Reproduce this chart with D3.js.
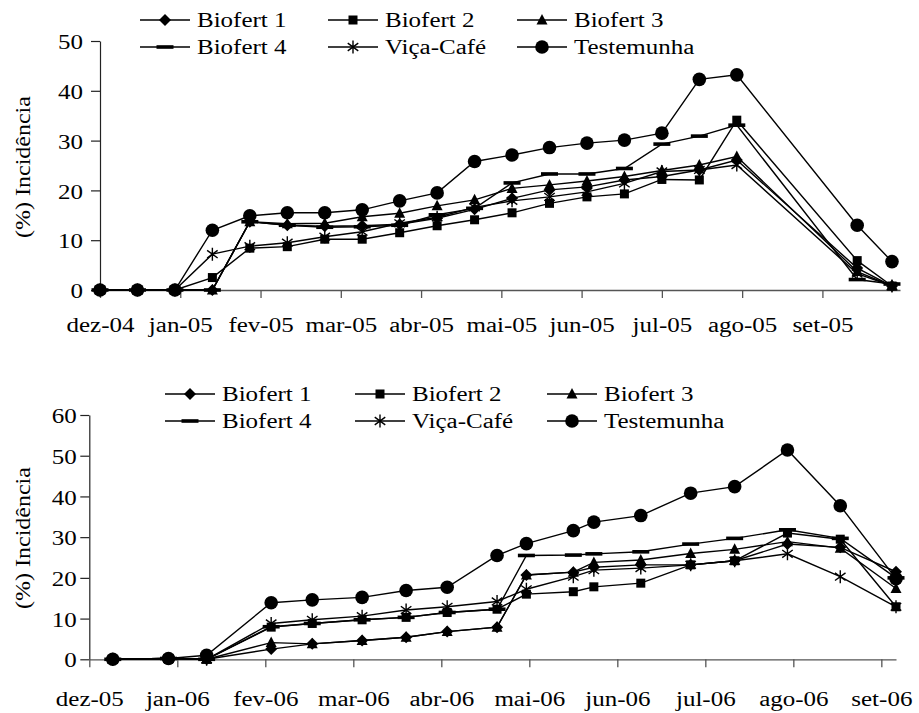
<!DOCTYPE html>
<html>
<head>
<meta charset="utf-8">
<script src="https://cdn.jsdelivr.net/npm/d3@7"></script>
</head>
<body style="margin:0;background:#fff">
<svg id="chart" width="919" height="713"></svg>
<script>
// ---- Series ----
const seriesNames = ["Biofert 1", "Biofert 2", "Biofert 3", "Biofert 4", "Viça-Café", "Testemunha"];
const seriesMarkers = ["diamond", "square", "triangle", "dash", "star", "circle"];

// ---- Season 2004/2005 ----
const dates0405 = ["2004-12-10", "2004-12-24", "2005-01-07", "2005-01-21", "2005-02-04", "2005-02-18",
  "2005-03-04", "2005-03-18", "2005-04-01", "2005-04-15", "2005-04-29", "2005-05-13", "2005-05-27",
  "2005-06-10", "2005-06-24", "2005-07-08", "2005-07-22", "2005-08-05", "2005-09-19", "2005-10-02"];
const axisEnd0405 = "2005-10-05";
const tickDates0405 = ["2004-12-10", "2005-01-09", "2005-02-08", "2005-03-10", "2005-04-09",
  "2005-05-09", "2005-06-08", "2005-07-08", "2005-08-07", "2005-09-06"];
const tickLabels0405 = ["dez-04", "jan-05", "fev-05", "mar-05", "abr-05", "mai-05", "jun-05", "jul-05", "ago-05", "set-05"];
const biofert1_0405 = [0, 0, 0, 0, 13.7, 13.0, 12.8, 12.9, 13.2, 14.4, 16.2, 18.4, 20.1, 20.7, 22.1, 22.8, 24.1, 26.1, 4.4, 0.8];
const biofert2_0405 = [0, 0, 0, 2.5, 8.4, 8.7, 10.2, 10.2, 11.5, 12.9, 14.1, 15.5, 17.4, 18.7, 19.3, 22.2, 22.1, 34.1, 5.9, 0.8];
const biofert3_0405 = [0, 0, 0, 0, 13.7, 13.3, 13.4, 14.7, 15.4, 16.9, 18.1, 20.4, 21.1, 21.9, 22.8, 24.0, 25.1, 26.8, 3.7, 0.8];
const biofert4_0405 = [0, 0, 0, 0, 13.7, 13.0, 12.6, 12.7, 13.0, 15.1, 16.4, 21.5, 23.3, 23.3, 24.4, 29.3, 30.9, 33.1, 2.1, 1.2];
const vicacafe_0405 = [0, 0, 0, 7.2, 8.8, 9.5, 10.7, 11.7, 13.4, 14.6, 16.6, 17.9, 18.7, 19.7, 21.4, 23.8, 24.1, 25.1, 3.3, 0.8];
const testemunha_0405 = [0, 0, 0, 12.0, 14.9, 15.5, 15.5, 16.1, 17.9, 19.5, 25.8, 27.1, 28.6, 29.5, 30.1, 31.5, 42.3, 43.2, 13.0, 5.7];
const yTicks0405 = [0, 10, 20, 30, 40, 50];

// ---- Season 2005/2006 ----
const dates0506 = ["2005-12-13", "2006-01-01", "2006-01-14", "2006-02-05", "2006-02-19", "2006-03-08",
  "2006-03-23", "2006-04-06", "2006-04-23", "2006-05-03", "2006-05-19", "2006-05-26", "2006-06-11",
  "2006-06-28", "2006-07-13", "2006-07-31", "2006-08-18", "2006-09-06"];
const axisStart0506 = "2005-12-05";
const axisEnd0506 = "2006-09-06";
const tickDates0506 = ["2005-12-05", "2006-01-04", "2006-02-03", "2006-03-05", "2006-04-04",
  "2006-05-04", "2006-06-03", "2006-07-03", "2006-08-02", "2006-09-01"];
const tickLabels0506 = ["dez-05", "jan-06", "fev-06", "mar-06", "abr-06", "mai-06", "jun-06", "jul-06", "ago-06", "set-06"];
const biofert1_0506 = [0, 0.2, 0, 2.5, 3.8, 4.6, 5.4, 6.8, 7.9, 20.7, 21.4, 22.6, 23.2, 23.2, 24.2, 28.3, 27.5, 21.5];
const biofert2_0506 = [0, 0.2, 0, 7.9, 8.8, 9.7, 10.3, 11.5, 12.3, 16.0, 16.6, 17.8, 18.7, 23.2, 24.2, 31.0, 29.5, 12.9];
const biofert3_0506 = [0, 0.2, 0, 4.1, 3.8, 4.6, 5.4, 6.8, 7.9, 20.7, 21.4, 23.8, 24.4, 26.0, 27.0, 28.9, 27.3, 17.4];
const biofert4_0506 = [0, 0.2, 0, 8.0, 8.8, 9.7, 10.3, 11.5, 12.3, 25.5, 25.6, 25.9, 26.4, 28.3, 29.7, 31.8, 29.7, 20.0];
const vicacafe_0506 = [0, 0.2, 0, 8.8, 9.7, 10.6, 12.1, 12.9, 14.2, 17.2, 20.3, 21.9, 22.4, 23.2, 24.2, 25.9, 20.3, 12.9];
const testemunha_0506 = [0, 0.2, 1.0, 13.9, 14.6, 15.2, 16.9, 17.7, 25.5, 28.4, 31.6, 33.7, 35.3, 40.8, 42.4, 51.4, 37.7, 19.8];
const yTicks0506 = [0, 10, 20, 30, 40, 50, 60];

const yTitle = "(%) Incidência";

// ---- Drawing ----
const FONT = "Liberation Serif";
const parse = d3.timeParse("%Y-%m-%d");
const svg = d3.select("#chart");
const SX = 1.25; // horizontal stretch of the serif lettering

function styleText(sel) {
  return sel.attr("font-family", FONT).attr("font-size", 20).attr("fill", "#000");
}

function marker(g, type, cx, cy) {
  switch (type) {
    case "diamond":
      g.append("path").attr("d", `M${cx},${cy - 6}L${cx + 6},${cy}L${cx},${cy + 6}L${cx - 6},${cy}Z`).attr("fill", "#000");
      break;
    case "square":
      g.append("rect").attr("x", cx - 4.5).attr("y", cy - 4.5).attr("width", 9).attr("height", 9).attr("fill", "#000");
      break;
    case "triangle":
      g.append("path").attr("d", `M${cx},${cy - 6}L${cx + 5.5},${cy + 4.5}L${cx - 5.5},${cy + 4.5}Z`).attr("fill", "#000");
      break;
    case "dash":
      g.append("rect").attr("x", cx - 8.5).attr("y", cy - 1.8).attr("width", 17).attr("height", 3.6).attr("fill", "#000");
      break;
    case "star": {
      const r = 6.5, dx = r * Math.cos(Math.PI / 5), dy = r * Math.sin(Math.PI / 5);
      g.append("path")
        .attr("d", `M${cx},${cy - r}L${cx},${cy + r}M${cx - dx},${cy - dy}L${cx + dx},${cy + dy}M${cx - dx},${cy + dy}L${cx + dx},${cy - dy}`)
        .attr("stroke", "#000").attr("stroke-width", 1.4).attr("fill", "none");
      break;
    }
    case "circle":
      g.append("circle").attr("cx", cx).attr("cy", cy).attr("r", 6.8).attr("fill", "#000");
      break;
  }
}

function drawPanel(cfg) {
  const dates = cfg.dates.map(parse);
  const x = d3.scaleTime().domain([parse(cfg.axisStart), parse(cfg.axisEnd)]).range(cfg.xRange);
  const y = d3.scaleLinear().domain([0, d3.max(cfg.yTicks)]).range(cfg.yRange);
  const g = svg.append("g");

  // y axis
  const ya = g.append("g").attr("transform", `translate(${cfg.xRange[0]},0)`)
    .call(d3.axisLeft(y).tickValues(cfg.yTicks).tickSize(9).tickSizeOuter(0).tickFormat(d3.format("d")));
  ya.attr("font-family", FONT).attr("font-size", 20);
  ya.selectAll("path,line").attr("stroke", "#222").attr("stroke-width", 1.2);
  styleText(ya.selectAll("text").attr("x", null).attr("dy", null)
    .attr("dominant-baseline", "central").attr("text-anchor", "end")
    .attr("transform", `translate(${-cfg.yLabelGap},1) scale(${SX},1)`));

  // x axis
  const tickDates = cfg.tickDates.map(parse);
  const xa = g.append("g").attr("transform", `translate(0,${cfg.yRange[0]})`)
    .call(d3.axisBottom(x).tickValues(tickDates).tickSize(8).tickSizeOuter(0)
      .tickFormat((d, i) => cfg.tickLabels[i]));
  xa.attr("font-family", FONT).attr("font-size", 20);
  xa.selectAll("path,line").attr("stroke", "#555").attr("stroke-width", 1.3);
  styleText(xa.selectAll("text").attr("y", null).attr("dy", null)
    .attr("transform", `translate(0,${cfg.xLabelDrop}) scale(${SX},1)`));

  // y title
  styleText(g.append("text").attr("text-anchor", "middle").attr("dominant-baseline", "central")
    .attr("transform", `translate(${cfg.yTitlePos[0]},${cfg.yTitlePos[1]}) rotate(-90) scale(1.2,1)`)
    .text(yTitle));

  // series: line then its markers
  const line = d3.line().x((d, i) => x(dates[i])).y(d => y(d));
  cfg.series.forEach((vals, s) => {
    const sg = g.append("g");
    sg.append("path").datum(vals).attr("d", line)
      .attr("fill", "none").attr("stroke", "#000").attr("stroke-width", 1.4);
    vals.forEach((v, i) => marker(sg, seriesMarkers[s], x(dates[i]), y(v)));
  });

  // legend: two rows of three
  const lg = g.append("g");
  seriesNames.forEach((name, s) => {
    const row = Math.floor(s / 3), col = s % 3;
    const ly = cfg.legendRows[row], lx = cfg.legendCols[col];
    lg.append("line").attr("x1", lx).attr("x2", lx + 50).attr("y1", ly).attr("y2", ly)
      .attr("stroke", "#000").attr("stroke-width", 1.4);
    marker(lg, seriesMarkers[s], lx + 25, ly);
    styleText(lg.append("text").attr("transform", `translate(${lx + 57},${ly + 7}) scale(${SX},1)`).text(name));
  });
}

drawPanel({
  dates: dates0405, axisStart: dates0405[0], axisEnd: axisEnd0405,
  tickDates: tickDates0405, tickLabels: tickLabels0405, yTicks: yTicks0405,
  xRange: [100, 900], yRange: [290, 41],
  yLabelGap: 17, xLabelDrop: 42, yTitlePos: [23, 167],
  series: [biofert1_0405, biofert2_0405, biofert3_0405, biofert4_0405, vicacafe_0405, testemunha_0405],
  legendRows: [20, 47], legendCols: [140, 328, 517]
});

drawPanel({
  dates: dates0506, axisStart: axisStart0506, axisEnd: axisEnd0506,
  tickDates: tickDates0506, tickLabels: tickLabels0506, yTicks: yTicks0506,
  xRange: [89.3, 896], yRange: [659.3, 415],
  yLabelGap: 12.5, xLabelDrop: 47, yTitlePos: [23, 538],
  series: [biofert1_0506, biofert2_0506, biofert3_0506, biofert4_0506, vicacafe_0506, testemunha_0506],
  legendRows: [394, 421], legendCols: [165, 355, 547]
});
</script>
</body>
</html>
